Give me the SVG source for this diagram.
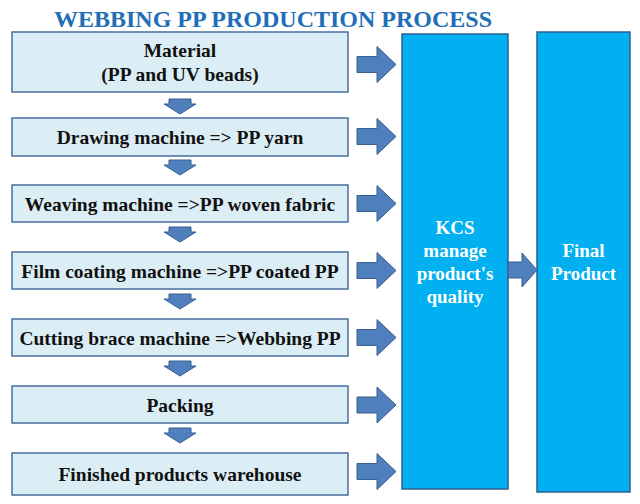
<svg xmlns="http://www.w3.org/2000/svg" width="640" height="504" viewBox="0 0 640 504">
<style>
.step{fill:#DCEEF5;stroke:#4A6E9E;stroke-width:1.5}
.big{fill:#00B0F0;stroke:#2E5F8F;stroke-width:1.5}
.arr{fill:#4F7FBD;stroke:#3A5F8E;stroke-width:1}
.t{font-family:'Liberation Serif','Times New Roman',serif;font-weight:bold;font-size:19.5px;fill:#111;text-anchor:middle}
.w{font-family:'Liberation Serif','Times New Roman',serif;font-weight:bold;font-size:19px;fill:#fff;text-anchor:middle}
.title{font-family:'Liberation Serif','Times New Roman',serif;font-weight:bold;font-size:24px;fill:#1F6EB8;text-anchor:middle}
</style>
<defs>
<path id="down" d="M-11,0 H11 V5 H16 L0,15 L-16,5 H-11 Z"/>
<path id="right" d="M0,-8 H20 V-18 L39,0 L20,18 V8 H0 Z"/>
</defs>
<rect width="640" height="504" fill="#fff"/>
<text class="title" x="273" y="27">WEBBING PP PRODUCTION PROCESS</text>

<g id="n1"><rect class="step" x="12" y="32" width="336" height="60"/><text class="t" x="180" y="57">Material</text><text class="t" x="180" y="81">(PP and UV beads)</text></g>
<g id="n2"><rect class="step" x="12" y="118" width="336" height="38"/><text class="t" x="180" y="144">Drawing machine =&gt; PP yarn</text></g>
<g id="n3"><rect class="step" x="12" y="185" width="336" height="37"/><text class="t" x="180" y="210.5">Weaving machine =&gt;PP woven fabric</text></g>
<g id="n4"><rect class="step" x="12" y="252" width="336" height="37"/><text class="t" x="180" y="277.5">Film coating machine =&gt;PP coated PP</text></g>
<g id="n5"><rect class="step" x="12" y="319" width="336" height="37"/><text class="t" x="180" y="344.5">Cutting brace machine =&gt;Webbing PP</text></g>
<g id="n6"><rect class="step" x="12" y="386" width="336" height="37"/><text class="t" x="180" y="411.5">Packing</text></g>
<g id="n7"><rect class="step" x="12" y="453" width="336" height="42"/><text class="t" x="180" y="481">Finished products warehouse</text></g>

<g id="kcs"><rect class="big" x="402" y="34" width="106" height="455"/>
<text class="w" x="455" y="234">KCS</text><text class="w" x="455" y="257">manage</text><text class="w" x="455" y="280">product's</text><text class="w" x="455" y="303">quality</text></g>
<g id="final"><rect class="big" x="537" y="32" width="93" height="460"/>
<text class="w" x="583.5" y="257">Final</text><text class="w" x="583.5" y="280">Product</text></g>

<g id="connectors">
<use href="#down" class="arr" x="180" y="99"/>
<use href="#down" class="arr" x="180" y="160"/>
<use href="#down" class="arr" x="180" y="227"/>
<use href="#down" class="arr" x="180" y="294"/>
<use href="#down" class="arr" x="180" y="361"/>
<use href="#down" class="arr" x="180" y="428"/>
<use href="#right" class="arr" x="357" y="64.5"/>
<use href="#right" class="arr" x="357" y="136.5"/>
<use href="#right" class="arr" x="357" y="203.5"/>
<use href="#right" class="arr" x="357" y="270.5"/>
<use href="#right" class="arr" x="357" y="337.5"/>
<use href="#right" class="arr" x="357" y="405"/>
<use href="#right" class="arr" x="357" y="471.5"/>
<path class="arr" d="M508,262 H522 V253 L537,270 L522,287 V278 H508 Z"/>
</g>
</svg>
